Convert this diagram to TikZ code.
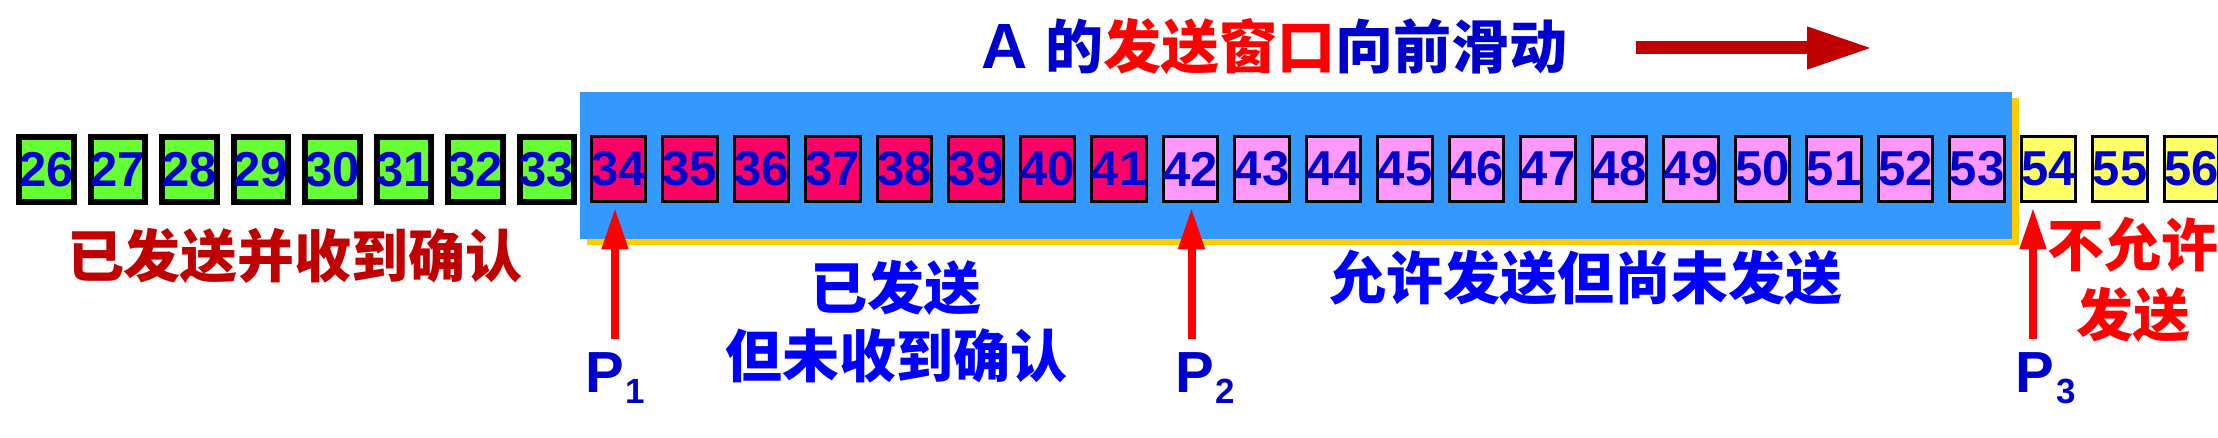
\documentclass[tikz,border=0pt]{standalone}
\usepackage{fontspec}
\setmainfont{Liberation Sans}
\newfontfamily\cjk{Noto Sans CJK SC}
\usetikzlibrary{arrows.meta}
\definecolor{numblue}{HTML}{0000CC}
\definecolor{labblue}{HTML}{0000FF}
\definecolor{ackgreen}{HTML}{66FF33}
\definecolor{sentred}{HTML}{FF0066}
\definecolor{usepink}{HTML}{FF99FF}
\definecolor{nayellow}{HTML}{FFFF66}
\definecolor{winblue}{HTML}{3399FF}
\definecolor{winshadow}{HTML}{FFCC00}
\definecolor{darkred}{HTML}{C00000}
\begin{document}
\begin{tikzpicture}[x=0.5pt,y=-0.5pt,
  every node/.style={inner sep=0pt, outer sep=0pt},
  seqbox/.style={draw=black, line width=1.5pt, minimum width=26.25pt, minimum height=32.5pt,
    text=numblue, font=\fontsize{24.5pt}{24.5pt}\selectfont\bfseries},
  acked/.style={seqbox, fill=ackgreen, line width=3pt},
  sentbox/.style={seqbox, fill=sentred},
  usable/.style={seqbox, fill=usepink},
  barred/.style={seqbox, fill=nayellow},
  ptr/.style={draw=red, line width=4pt, -{Triangle[length=21pt,width=12.5pt]}, shorten >=3pt},
  plabel/.style={text=numblue, anchor=base west, font=\fontsize{29pt}{29pt}\selectfont\bfseries},
  lab/.style={font=\cjk\bfseries\fontsize{28.5pt}{34pt}\selectfont, align=center},
]
\useasboundingbox (0,0) rectangle (2218,438);
% window
\fill[winshadow] (586.5,98.5) rectangle (2018.5,245.5);
\fill[winblue] (580,92) rectangle (2012,239);
% sequence boxes
\foreach \n in {26,...,33} \node[acked] (b\n) at ({46.5+(\n-26)*71.5},169.5) {\n};
\foreach \n in {34,...,41} \node[sentbox] (b\n) at ({46.5+(\n-26)*71.5},169) {\n};
\foreach \n in {42,...,53} \node[usable] (b\n) at ({46.5+(\n-26)*71.5},169) {\n};
\foreach \n in {54,...,56} \node[barred] (b\n) at ({46.5+(\n-26)*71.5},169) {\n};
% title
\node[anchor=base west] (title) at (981,69)
  {\fontsize{32pt}{32pt}\selectfont\bfseries\color{numblue}A\ \cjk\fontsize{29pt}{29pt}\selectfont\bfseries 的\color{red}发送窗口\color{numblue}向前滑动};
\coordinate (ta) at (1636,48);
\coordinate (tb) at (1873,48);
\draw[darkred, line width=6.5pt, -{Triangle[length=33pt,width=19.5pt]}] (ta) -- (tb);
% pointers
\coordinate (t1) at (615,339);
\coordinate (t2) at (1191.5,339);
\coordinate (t3) at (2033,339);
\draw[ptr] (t1) -- (t1 |- b34.south);
\draw[ptr] (t2) -- (t2 |- b42.south);
\draw[ptr] (t3) -- (t3 |- b54.south);
\node[plabel] (p1) at (585,393) {P\kern1pt\raisebox{-5.5pt}{\fontsize{17.5pt}{17.5pt}\selectfont 1}};
\node[plabel] (p2) at (1175,393) {P\kern1pt\raisebox{-5.5pt}{\fontsize{17.5pt}{17.5pt}\selectfont 2}};
\node[plabel] (p3) at (2015.5,393) {P\kern1pt\raisebox{-5.5pt}{\fontsize{17.5pt}{17.5pt}\selectfont 3}};
% labels
\node[lab, text=darkred] (l1) at (295,256) {已发送并收到确认};
\node[lab, text=labblue] (l2) at (896,322) {已发送\\但未收到确认};
\node[lab, text=labblue] (l3) at (1586,278) {允许发送但尚未发送};
\node[lab, text=red, font=\cjk\bfseries\fontsize{28.5pt}{35pt}\selectfont] (l4) at (2133,280) {不允许\\发送};
\end{tikzpicture}
\end{document}
